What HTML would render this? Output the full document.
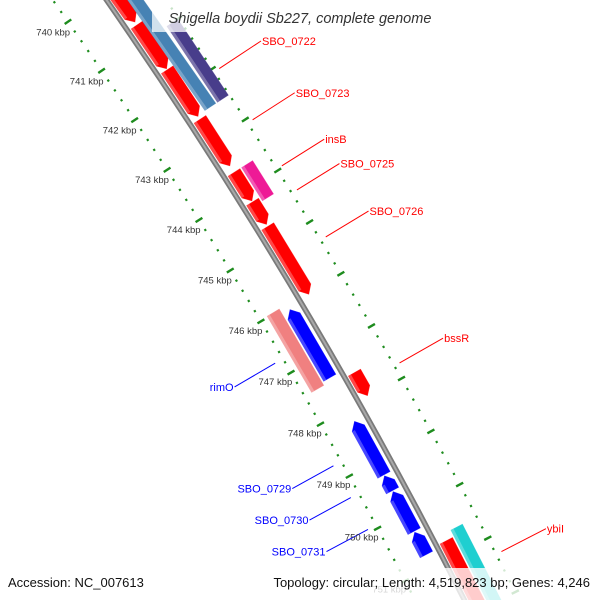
<!DOCTYPE html>
<html><head><meta charset="utf-8"><title>Shigella boydii Sb227 genome map</title>
<style>
html,body{margin:0;padding:0;background:#fff;width:600px;height:600px;overflow:hidden;}
svg{display:block;font-family:"Liberation Sans","DejaVu Sans",sans-serif;overflow:hidden;}
</style></head>
<body>
<svg id="map" width="600" height="600" viewBox="0 0 600 600" xmlns="http://www.w3.org/2000/svg">
<g id="ticks"></g>
<g id="backbone"></g>
<g id="genes"></g>
<g id="labels"></g>
<g id="ticklabels"></g>
<rect x="152" y="4" width="293" height="28" fill="#ffffff" fill-opacity="0.75"/>
<text x="300" y="23" text-anchor="middle" font-size="14.5" font-style="italic" fill="#333">Shigella boydii Sb227, complete genome</text>
<rect x="0" y="568" width="600" height="32" fill="#ffffff" fill-opacity="0.8"/>
<text x="8" y="587" font-size="13" fill="#111">Accession: NC_007613</text>
<text x="590" y="587" text-anchor="end" font-size="13" fill="#111">Topology: circular; Length: 4,519,823 bp; Genes: 4,246</text>
</svg>
<script>
// ---- data ----
const geneNames  = ["g0","g1","SBO_0722","SBO_0723","g4","insB","SBO_0725","SBO_0726","bssR","ybiI","steel","slate","cyan","rimO","SBO_0729","SBO_0730","SBO_0731","g17","g18"];
const geneStart  = [737.0,740.70,741.60,742.59,743.64,743.64,744.22,744.70,747.53,750.72,737.0,741.00,750.60,745.98,748.24,749.28,749.58,750.35,746.08];
const geneEnd    = [740.64,741.58,742.53,743.51,744.20,744.29,744.66,746.02,747.97,752.50,742.51,742.51,752.50,747.46,749.26,749.56,750.33,750.77,747.40];
const geneTrack  = [1,1,1,1,1,2,1,1,1,1,2,3,2,-2,-1,-1,-1,-1,-1];
const geneColor  = ["#ff0000","#ff0000","#ff0000","#ff0000","#ff0000","#ee1a96","#ff0000","#ff0000","#ff0000","#ff0000","#4682b4","#483d8b","#1ecfd0","#f08080","#0000ff","#0000ff","#0000ff","#0000ff","#0000ff"];
const geneArrow  = [1,1,1,1,1,0,1,1,1,1,0,0,0,0,1,1,1,1,1];
const labelText  = ["SBO_0722","SBO_0723","insB","SBO_0725","SBO_0726","bssR","ybiI","rimO","SBO_0729","SBO_0730","SBO_0731"];
const labelKbp   = [742.06,743.07,743.97,744.44,745.35,747.76,751.30,746.73,748.72,749.33,749.94];
const labelStrand= [1,1,1,1,1,1,1,-1,-1,-1,-1];
const tickKbp    = [740,741,742,743,744,745,746,747,748,749,750,751];
const tickLabels = ["740 kbp","741 kbp","742 kbp","743 kbp","744 kbp","745 kbp","746 kbp","747 kbp","748 kbp","749 kbp","750 kbp","751 kbp"];

// ---- geometry ----
const CX=-4066, CY=2896, A0=-34.81, DPK=0.676, RB=5079;
const TR={"1":[5083,5097],"2":[5099,5112],"3":[5114,5127],"-1":[5059,5073],"-2":[5043,5057]};
const RIN=5035, ROUT=5128, HEAD=0.13;
const NS="http://www.w3.org/2000/svg";
function P(k,r){const a=(A0+(k-740)*DPK)*Math.PI/180;return [CX+r*Math.cos(a),CY+r*Math.sin(a)];}
function f(p){return p[0].toFixed(2)+","+p[1].toFixed(2);}
function mk(tag,parent,attrs){const e=document.createElementNS(NS,tag);for(const k in attrs)e.setAttribute(k,attrs[k]);parent.appendChild(e);return e;}

// backbone
const bb=document.getElementById('backbone');
const b1=P(735.5,RB),b2=P(753,RB);
const dB="M"+f(b1)+" A"+RB+" "+RB+" 0 0 1 "+f(b2);
let e=mk('path',bb,{d:dB,fill:"none",stroke:"#7a7a7a","stroke-width":5.5});


e=mk('path',bb,{d:dB,fill:"none",stroke:"#a8a8a8","stroke-width":2});



// ticks
const tg=document.getElementById('ticks');
for(let i=0;i<=85;i++){
  const k=736+i*0.2;
  const whole=Math.abs(k-Math.round(k))<1e-6;
  [RIN,ROUT].forEach(r=>{
    const h=whole?4:1.1;
    const t=mk('line',tg,{});
    const p1=P(k,r-h),p2=P(k,r+h);
    t.setAttribute('x1',p1[0]);t.setAttribute('y1',p1[1]);t.setAttribute('x2',p2[0]);t.setAttribute('y2',p2[1]);
    t.setAttribute('stroke','#1e8c1e');t.setAttribute('stroke-width',whole?2.4:2.2);
    
    
  });
}
const tl=document.getElementById('ticklabels');
tickKbp.forEach((k,i)=>{
  const p=P(k,5017);
  const t=mk('text',tl,{x:p[0].toFixed(1),y:(p[1]+3.5).toFixed(1),"text-anchor":"middle","font-size":9.5,fill:"#333"});
  t.textContent=tickLabels[i];
  
  
});

// genes
const gg=document.getElementById('genes');
geneStart.forEach((s,i)=>{
  const en=geneEnd[i], tr=geneTrack[i], r0=TR[tr][0], r1=TR[tr][1], rm=(r0+r1)/2;
  let pts;
  if(geneArrow[i] && tr>0){
    const hb=Math.max(s,en-HEAD);
    pts=[P(s,r0),P(hb,r0),P(en,rm),P(hb,r1),P(s,r1)];
  } else if(geneArrow[i] && tr<0){
    const hb=Math.min(en,s+HEAD);
    pts=[P(s,rm),P(hb,r0),P(en,r0),P(en,r1),P(hb,r1)];
  } else {
    pts=[P(s,r0),P(en,r0),P(en,r1),P(s,r1)];
  }
  const g=mk('polygon',gg,{points:pts.map(f).join(" "),fill:geneColor[i],stroke:geneColor[i],"stroke-width":0.6,"stroke-opacity":0.6});
  
  
  const a=tr>0?s:(geneArrow[i]?Math.min(en,s+HEAD):s);
  const b=tr>0?(geneArrow[i]?Math.max(s,en-HEAD):en):en;
  const sp=[P(a,r0),P(b,r0),P(b,r0+3),P(a,r0+3)];
  const sh=mk('polygon',gg,{points:sp.map(f).join(" "),fill:"#ffffff","fill-opacity":0.28});
  
  
});

// labels
const lg=document.getElementById('labels');
labelText.forEach((txt,i)=>{
  const st=labelStrand[i], col=st>0?"#ff0000":"#0000ff";
  const p1=P(labelKbp[i],st>0?5134:5026), p2=P(labelKbp[i],st>0?5184:4979);
  const l=mk('line',lg,{x1:p1[0],y1:p1[1],x2:p2[0],y2:p2[1],stroke:col,"stroke-width":1});
  
  
  const t=mk('text',lg,{x:(p2[0]+(st>0?1:-1)).toFixed(1),y:(p2[1]+4).toFixed(1),"text-anchor":st>0?"start":"end","font-size":11,fill:col});
  t.textContent=txt;
  
  
});
</script>
</body></html>
